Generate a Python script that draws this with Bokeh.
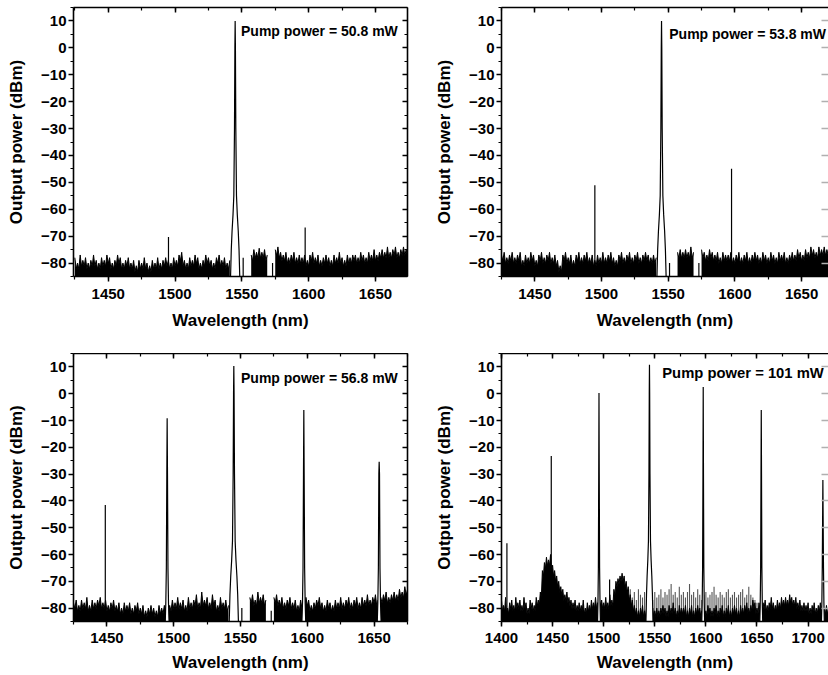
import numpy as np
from bokeh.plotting import figure
from bokeh.layouts import gridplot
from bokeh.models import Range1d, LinearAxis, SingleIntervalTicker, Label
from bokeh.embed import file_html
from bokeh.resources import INLINE

FONT = "Liberation Sans"
STEP = 2.0  # nm between listed noise-floor samples

X_LABEL = "Wavelength (nm)"
Y_LABEL = "Output power (dBm)"
Y_MIN, Y_MAX = -85, 15

# ---------------- Panel A : pump 50.8 mW ----------------
A_TEXT = "Pump power = 50.8 mW"
A_XRANGE = (1424, 1674)
A_PUMP_WL, A_PUMP_DB = 1545.0, 10.0
A_SIDE_WL = []
A_SIDE_DB = []
A_THIN_WL = [1495.1, 1597.4, 1551.0, 1573.0]
A_THIN_DB = [-70.3, -66.8, -78.0, -80.0]
A_NOISE_STARTS = [1425, 1557, 1575]
A_NOISE_1 = [-78, -80, -77, -79, -78, -80, -79, -77, -79, -80,
             -78, -79, -77, -78, -80, -79, -77, -78, -80, -79,
             -78, -80, -79, -81, -79, -80, -78, -80, -81, -79,
             -80, -78, -80, -79, -78, -79, -80, -78, -79, -77,
             -76, -79, -80, -78, -79, -77, -78, -80, -79, -77,
             -78, -79, -80, -78, -77, -79, -78, -80, -79]
A_NOISE_2 = [-77, -75, -76, -74.5, -76, -75, -77]
A_NOISE_3 = [-75, -74, -76, -77, -76, -78, -77, -76, -78, -77,
             -78, -77, -79, -77, -76, -78, -77, -79, -78, -77,
             -78, -79, -77, -78, -76, -78, -79, -77, -78, -77,
             -77, -78, -76, -77, -78, -76, -77, -75, -77, -76,
             -75, -76, -74, -76, -75, -74, -76, -75, -74, -75, -74]

# ---------------- Panel B : pump 53.8 mW ----------------
B_TEXT = "Pump power = 53.8 mW"
B_XRANGE = (1425, 1670.2)
B_PUMP_WL, B_PUMP_DB = 1545.0, 10.0
B_SIDE_WL = []
B_SIDE_DB = []
B_THIN_WL = [1495.0, 1597.5, 1551.0, 1573.0]
B_THIN_DB = [-51.1, -44.9, -80.0, -80.0]
B_NOISE_STARTS = [1425, 1557, 1575]
B_NOISE_1 = [-77, -76, -78, -77, -76, -78, -77, -76, -79, -77,
             -78, -76, -77, -79, -77, -76, -78, -77, -76, -78,
             -77, -79, -81, -77, -76, -78, -77, -79, -77, -76,
             -78, -77, -76, -78, -77, -79, -77, -78, -76, -78,
             -77, -76, -78, -79, -77, -76, -78, -77, -76, -78,
             -77, -76, -78, -77, -76, -77, -78, -77, -78]
B_NOISE_2 = [-76, -75, -76, -75, -76, -74, -76]
B_NOISE_3 = [-75, -76, -77, -75, -76, -77, -76, -78, -76, -77,
             -77, -76, -78, -77, -76, -78, -77, -76, -78, -77,
             -76, -77, -78, -76, -77, -78, -76, -77, -78, -76,
             -77, -76, -78, -77, -76, -77, -75, -76, -77, -75,
             -76, -74, -75, -76, -74, -75, -74, -75, -74]

# ---------------- Panel C : pump 56.8 mW ----------------
C_TEXT = "Pump power = 56.8 mW"
C_XRANGE = (1425, 1675)
C_PUMP_WL, C_PUMP_DB = 1545.0, 10.3
C_SIDE_WL = [1495.1, 1597.4, 1653.8]
C_SIDE_DB = [-9.2, -6.1, -25.4]
C_THIN_WL = [1448.8, 1551.0, 1573.0]
C_THIN_DB = [-41.5, -80.0, -81.0]
C_NOISE_STARTS = [1425, 1557, 1575]
C_NOISE_1 = [-78, -77, -79, -77, -78, -76, -79, -77, -78, -77,
             -76, -78, -77, -79, -78, -77, -79, -78, -80, -78,
             -79, -78, -80, -79, -78, -80, -79, -81, -80, -79,
             -80, -81, -79, -80, -79, -78, -79, -77, -78, -76,
             -78, -77, -79, -76, -78, -77, -75, -78, -74, -77,
             -76, -78, -75, -77, -79, -76, -78, -77, -79]
C_NOISE_2 = [-76, -75, -77, -74, -76, -75, -77]
C_NOISE_3 = [-76, -75, -77, -76, -78, -77, -76, -78, -77, -79,
             -77, -78, -76, -77, -79, -78, -77, -76, -78, -79,
             -77, -78, -79, -77, -78, -76, -78, -77, -76, -78,
             -77, -76, -78, -76, -77, -75, -77, -76, -75, -77,
             -76, -75, -74, -76, -75, -74, -75, -73, -74, -72, -73]

# ---------------- Panel D : pump 101 mW ----------------
D_TEXT = "Pump power = 101 mW"
D_XRANGE = (1400, 1720)
D_PUMP_WL, D_PUMP_DB = 1544.8, 10.8
D_SIDE_WL = [1495.4, 1597.4, 1654.2, 1714.5]
D_SIDE_DB = [0.3, 2.5, -6.1, -32.2]
D_THIN_WL = [1405.3, 1448.7, 1505.8]
D_THIN_DB = [-55.8, -23.2, -69.3]
D_NOISE_STARTS = [1400]
D_NOISE_1 = [-77, -79, -76, -80, -78, -77, -79, -76, -78, -77,
             -79, -76, -78, -80, -77, -78, -79, -76, -77, -74,
             -66, -63, -61, -62, -60, -64, -66, -68, -70, -72,
             -73, -75, -74, -76, -77, -78, -77, -79, -78, -79,
             -77, -80, -78, -79, -77, -78, -76, -78, -77, -77,
             -78, -76, -78, -75, -77, -73, -70, -69, -68, -67,
             -68, -70, -72, -75, -77, -79, -80, -81, -80, -79,
             -81, -80, -80, -81, -80, -81, -80, -81, -80, -79,
             -80, -81, -79, -80, -78, -80, -81, -79, -80, -80,
             -79, -81, -80, -79, -81, -80, -79, -80, -81, -80,
             -81, -79, -80, -81, -80, -79, -81, -80, -79, -81,
             -80, -79, -81, -80, -79, -80, -81, -79, -80, -79,
             -78, -80, -79, -77, -78, -80, -78, -79, -78, -77,
             -79, -78, -76, -78, -79, -77, -78, -76, -77, -76,
             -77, -75, -76, -77, -76, -78, -77, -79, -78, -79,
             -78, -80, -79, -78, -80, -79, -78, -79, -80, -79,
             -80]
# sparse grey "grass" above the floor, 1524-1650 nm
D_GRASS_START = 1524
D_GRASS = [-75, -73, -76, -74, -77, -73, -75, -76, -74, -77,
           -76, -75, -77, -74, -76, -75, -73, -76, -74, -75,
           -73, -71, -75, -74, -76, -72, -75, -74, -76, -74,
           -71, -75, -74, -76, -73, -75, -77, -75, -74, -76,
           -75, -74, -72, -75, -76, -74, -75, -76, -74, -73,
           -76, -75, -74, -76, -75, -74, -73, -76, -75, -72,
           -75, -76, -77, -78]

# ---------------- styling constants ----------------
PUMP_DX = [-3.6, -2.9, -2.3, -1.6, -1.0, -0.5, -0.2]
PUMP_LV = [-88, -75, -68, -62, -55, -30, 0]
SIDE_DX = [-1.6, -1.0, -0.6, -0.25]
SIDE_LV = [-88, -78, -65, -30]
VALLEY_DEPTH = 2.2


def style_axis(ax, show_labels, inward, color="black", line=True):
    ax.axis_line_width = 1.6
    ax.axis_line_color = color if line else None
    ax.major_tick_line_width = 1.5
    ax.minor_tick_line_width = 1.2
    ax.major_tick_line_color = color
    ax.minor_tick_line_color = color
    if inward:
        ax.major_tick_in, ax.major_tick_out = 5, 0
        ax.minor_tick_in, ax.minor_tick_out = 3, 0
    else:
        ax.major_tick_in, ax.major_tick_out = 0, 5
        ax.minor_tick_in, ax.minor_tick_out = 0, 3
    ax.major_label_text_font = FONT
    ax.major_label_text_font_style = "bold"
    ax.major_label_text_font_size = "15px"
    if show_labels:
        ax.major_label_text_color = "black"
    else:
        ax.major_label_text_color = None
        ax.major_label_standoff = 0
    ax.axis_label_text_font = FONT
    ax.axis_label_text_font_style = "bold"
    ax.axis_label_text_font_size = "17px"
    ax.axis_label_text_color = "black"


def peak_shape(c, top, dx, lv):
    keep = [(d, l) for d, l in zip(dx, lv) if l < top - 3]
    xs = [c + d for d, _ in keep] + [c] + [c - d for d, _ in reversed(keep)]
    ys = [l for _, l in keep] + [top] + [l for _, l in reversed(keep)]
    return xs, ys


def noise_trace(start, vals):
    v = np.asarray(vals, dtype=float)
    wl = start + STEP * np.arange(len(v))
    x = np.empty(2 * len(v) - 1)
    y = np.empty(2 * len(v) - 1)
    x[0::2] = wl
    y[0::2] = v
    x[1::2] = wl[:-1] + STEP / 2
    y[1::2] = np.minimum(v[:-1], v[1:]) - VALLEY_DEPTH
    return x, y


def make_panel(width, height, xr, b_left, b_right, b_top, b_bottom,
               tick_standoff, xlab_standoff, cropped, text, text_xy, text_size,
               starts, noises, pump, side_wl, side_db, thin_wl, thin_db,
               grass=None):
    p = figure(width=width, height=height, x_range=Range1d(*xr),
               y_range=Range1d(Y_MIN, Y_MAX), output_backend="svg",
               toolbar_location=None, min_border_left=b_left,
               min_border_right=b_right, min_border_top=b_top,
               min_border_bottom=b_bottom, x_axis_label=X_LABEL,
               y_axis_label=Y_LABEL)
    p.outline_line_color = None
    p.xgrid.visible = False
    p.ygrid.visible = False
    p.background_fill_color = "white"
    p.border_fill_color = "white"

    p.xaxis.ticker = SingleIntervalTicker(interval=50, num_minor_ticks=2)
    p.yaxis.ticker = SingleIntervalTicker(interval=10, num_minor_ticks=2)
    for ax in p.xaxis:
        style_axis(ax, True, False)
        ax.major_label_standoff = tick_standoff
        ax.axis_label_standoff = xlab_standoff
    for ax in p.yaxis:
        style_axis(ax, True, False)
        ax.major_label_standoff = 2
        ax.axis_label_standoff = 12

    top_ax = LinearAxis(ticker=SingleIntervalTicker(interval=50, num_minor_ticks=2))
    style_axis(top_ax, False, True)
    p.add_layout(top_ax, "above")
    right_ax = LinearAxis(ticker=SingleIntervalTicker(interval=10, num_minor_ticks=2))
    if cropped:
        style_axis(right_ax, False, True, color="#b0b0b0", line=False)
        right_ax.minor_tick_line_color = None
        right_ax.major_tick_in = 7
    else:
        style_axis(right_ax, False, True)
    p.add_layout(right_ax, "right")

    # grey sparse grass first (the black floor covers its lower part)
    if grass is not None:
        g_start, g_vals = grass
        gw = g_start + STEP * np.arange(len(g_vals))
        p.segment(x0=gw, y0=-86, x1=gw, y1=g_vals, line_color="#555555",
                  line_width=1.1)

    # noise floor
    for st, vals in zip(starts, noises):
        x, y = noise_trace(st, vals)
        p.varea(x=x, y1=-90, y2=y, fill_color="black")
        p.line(x, y, line_color="black", line_width=1)

    # lasing lines
    xs, ys = peak_shape(pump[0], pump[1], PUMP_DX, PUMP_LV)
    p.patch(xs, ys, fill_color="white", line_color="black", line_width=1.2)
    for c, t in zip(side_wl, side_db):
        xs, ys = peak_shape(c, t, SIDE_DX, SIDE_LV)
        p.patch(xs, ys, fill_color="white", line_color="black", line_width=1.2)
    if thin_wl:
        p.segment(x0=thin_wl, y0=-86, x1=thin_wl, y1=thin_db,
                  line_color="black", line_width=1.2)

    p.add_layout(Label(x=text_xy[0], y=text_xy[1], text=text, text_font=FONT,
                       text_font_style="bold", text_font_size=text_size,
                       text_color="black", text_baseline="alphabetic",
                       text_align="left"))
    return p


pa = make_panel(414, 353, A_XRANGE, 73, 7, 7, 77, 7, 9, False, A_TEXT,
                (1549.4, 6.3), "14px",
                A_NOISE_STARTS, [A_NOISE_1, A_NOISE_2, A_NOISE_3],
                (A_PUMP_WL, A_PUMP_DB), A_SIDE_WL, A_SIDE_DB, A_THIN_WL, A_THIN_DB)
pb = make_panel(414, 353, B_XRANGE, 87, 0, 7, 77, 7, 9, True, B_TEXT,
                (1550.8, 5.0), "14px",
                B_NOISE_STARTS, [B_NOISE_1, B_NOISE_2, B_NOISE_3],
                (B_PUMP_WL, B_PUMP_DB), B_SIDE_WL, B_SIDE_DB, B_THIN_WL, B_THIN_DB)
pc = make_panel(414, 321, C_XRANGE, 73, 7, 0, 52, 6, 7, False, C_TEXT,
                (1550.4, 5.7), "14px",
                C_NOISE_STARTS, [C_NOISE_1, C_NOISE_2, C_NOISE_3],
                (C_PUMP_WL, C_PUMP_DB), C_SIDE_WL, C_SIDE_DB, C_THIN_WL, C_THIN_DB)
pd = make_panel(414, 321, D_XRANGE, 87, 0, 0, 52, 6, 7, True, D_TEXT,
                (1557.3, 7.8), "14.8px",
                D_NOISE_STARTS, [D_NOISE_1],
                (D_PUMP_WL, D_PUMP_DB), D_SIDE_WL, D_SIDE_DB, D_THIN_WL, D_THIN_DB,
                grass=(D_GRASS_START, D_GRASS))

grid = gridplot([[pa, pb], [pc, pd]], toolbar_location=None)

open("out.html", "w").write(file_html(grid, INLINE))
